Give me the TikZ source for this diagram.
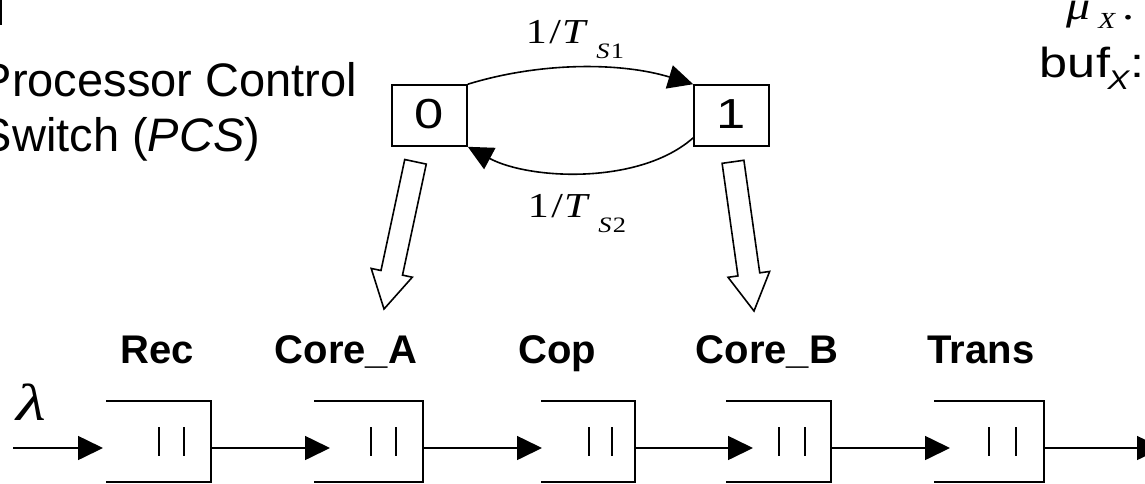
\documentclass[tikz,border=0pt]{standalone}
\usepackage{graphicx}
\usepackage{fontspec}
\setmainfont{Liberation Sans}
\newfontfamily\tnr{Liberation Serif}
\usetikzlibrary{arrows.meta,calc}
\newcommand\blockarrow[2]{%
  \coordinate (bah) at ($(#2)!37pt!(#1)$);
  \draw[fill=white, line join=miter]
    ($(#1)!11pt!90:(#2)$) -- ($(bah)!11pt!90:(#2)$) -- ($(bah)!21pt!90:(#2)$) --
    (#2) -- ($(bah)!21pt!-90:(#2)$) -- ($(bah)!11pt!-90:(#2)$) --
    ($(#1)!11pt!-90:(#2)$) -- cycle;}
\newcommand\queuedraw[3]{%
  \draw (#1.north west) -- (#1.north east) -- (#1.south east) -- (#1.south west);
  \draw ([xshift=-#2pt,yshift=-26pt]#1.north east) -- ([xshift=-#2pt,yshift=26pt]#1.south east);
  \draw ([xshift=-#3pt,yshift=-26pt]#1.north east) -- ([xshift=-#3pt,yshift=26pt]#1.south east);}
\newcommand\rate[1]{\tnr\fontsize{35}{35}\selectfont 1\kern2pt/\kern1pt\textit{T}\kern7pt\raisebox{-15pt}{\fontsize{22}{22}\selectfont\textit{S}\kern1pt#1}}
\begin{document}
\begin{tikzpicture}[x=1pt,y=-1pt,line width=1.6pt,
  tipa/.style={-{Triangle[length=25pt,width=24pt]}},
  statebox/.style={draw, minimum width=75pt, minimum height=61pt, inner sep=0pt,
    font=\fontsize{42}{42}\selectfont},
  queue/.style={minimum width=#1, minimum height=79pt, inner sep=0pt},
  qlabel/.style={font=\fontsize{40}{40}\selectfont\bfseries, anchor=base, inner sep=0pt},
  plain/.style={font=\fontsize{47}{47}\selectfont, anchor=base west, inner sep=0pt},
  wide/.style={xscale=1.2, inner sep=0pt}]
\useasboundingbox (0,0) rectangle (1145,483);
\fill (0,0) rectangle (2,25);
% PCS text
\node[plain] (pc1) at (-20,96) {Processor Control};
\node[plain] (pc2) at (-20,151) {Switch (\textit{PCS})};
% state boxes
\node[statebox] (b0) at (429.5,115.5) {\raisebox{3pt}{\scalebox{1.25}[1]{0}}};
\node[statebox] (b1) at (731.5,115.5) {\raisebox{3pt}{\scalebox{1.25}[1]{1}}};
\draw[tipa] (b0.north east) .. controls (540,62) and (620,62) .. (b1.north west);
\draw[tipa] ([yshift=9pt]b1.south west) .. controls (640,185) and (530,180) .. (b0.south east);
\node[wide, anchor=base west] (l1) at (525,43) {\rate{1}};
\node[wide, anchor=base west] (l2) at (527,217) {\rate{2}};
% top right
\node[wide, anchor=base west] (mu) at (1066,19)
  {\tnr\fontsize{40}{40}\selectfont\textit{μ}\kern6pt\raisebox{-9pt}{\fontsize{23}{23}\selectfont\textit{X}}\kern5pt.};
\node[wide, anchor=base west] (buf) at (1039,77)
  {\fontsize{42}{42}\selectfont buf\kern-2pt\raisebox{-12pt}{\fontsize{27}{27}\selectfont\textit{X}}:};
% queues
\node[queue=103pt] (rec) at (158.5,441.5) {};
\node[queue=107pt] (ca) at (368.5,441.5) {};
\node[queue=92pt] (cop) at (588,441.5) {};
\node[queue=103pt] (cb) at (778.5,441.5) {};
\node[queue=108pt] (tr) at (989,441.5) {};
\queuedraw{rec}{52}{27}
\queuedraw{ca}{52}{27}
\queuedraw{cop}{46}{23}
\queuedraw{cb}{52}{26}
\queuedraw{tr}{55}{28}
% labels
\node[qlabel] at (157,363) {Rec};
\node[qlabel] at (346,363) {Core\_A};
\node[qlabel] at (557,363) {Cop};
\node[qlabel] at (767,363) {Core\_B};
\node[qlabel] at (981,363) {Trans};
% arrows
\coordinate (in) at (13,448);
\coordinate (t1) at (103,448);
\coordinate (t2) at (330,448);
\coordinate (t3) at (542,448);
\coordinate (t4) at (753,448);
\coordinate (t5) at (950,448);
\coordinate (t6) at (1162,448);
\draw[tipa] (in) -- (t1);
\draw[tipa] ([yshift=-6.5pt]rec.east) -- (t2);
\draw[tipa] ([yshift=-6.5pt]ca.east) -- (t3);
\draw[tipa] ([yshift=-6.5pt]cop.east) -- (t4);
\draw[tipa] ([yshift=-6.5pt]cb.east) -- (t5);
\draw[tipa] ([yshift=-6.5pt]tr.east) -- (t6);
\node[wide, xscale=1.1, anchor=base] (lam) at (31,420) {\tnr\fontsize{52}{52}\selectfont\textit{λ}};
% hollow arrows
\coordinate (a0s) at ($(b0.south)+(-14,15)$);
\coordinate (a0e) at (384,309);
\coordinate (a1s) at ($(b1.south)+(1.5,15)$);
\coordinate (a1e) at (754,311);
\blockarrow{a0s}{a0e}
\blockarrow{a1s}{a1e}
\end{tikzpicture}
\end{document}
